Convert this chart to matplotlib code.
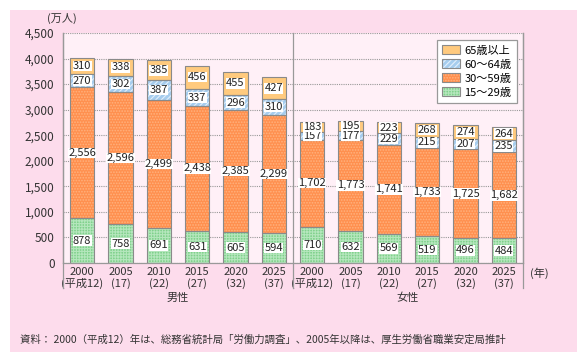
import matplotlib
matplotlib.use("Agg")
import matplotlib.pyplot as plt
from matplotlib.patches import Rectangle, Patch
from matplotlib.legend_handler import HandlerTuple
import matplotlib.transforms as mtransforms
import numpy as np

plt.rcParams['font.family'] = ['Noto Sans CJK JP', 'DejaVu Sans']
plt.rcParams['hatch.linewidth'] = 0.8

years = ["2000\n(平成12)", "2005\n(17)", "2010\n(22)", "2015\n(27)", "2020\n(32)", "2025\n(37)"]
groups = ["男性", "女性"]
series_names = ["15～29歳", "30～59歳", "60～64歳", "65歳以上"]

male_15_29 = [878, 758, 691, 631, 605, 594]
male_30_59 = [2556, 2596, 2499, 2438, 2385, 2299]
male_60_64 = [270, 302, 387, 337, 296, 310]
male_65 = [310, 338, 385, 456, 455, 427]

female_15_29 = [710, 632, 569, 519, 496, 484]
female_30_59 = [1702, 1773, 1741, 1733, 1725, 1682]
female_60_64 = [157, 177, 229, 215, 207, 235]
female_65 = [183, 195, 223, 268, 274, 264]

yticks = [0, 500, 1000, 1500, 2000, 2500, 3000, 3500, 4000, 4500]

series = [
    np.array(male_15_29 + female_15_29),
    np.array(male_30_59 + female_30_59),
    np.array(male_60_64 + female_60_64),
    np.array(male_65 + female_65),
]
faces = ['#80d18c', '#ff904f', '#a6cdee', '#ffca7e']
hatchcols = ['#b4e6bc', '#ffb27e', '#e2effb', '#ffca7e']
hatches = ['++++++', '......', '//////', None]

W, H = 588, 363
fig = plt.figure(figsize=(W / 100, H / 100), dpi=100, facecolor='white')
fig.patches.append(Rectangle((10 / W, 1 - 352 / H), 567 / W, 342 / H,
                             transform=fig.transFigure, facecolor='#fddcec',
                             edgecolor='none', zorder=-10))

ax = fig.add_axes([63 / W, 1 - 263 / H, 460 / W, 230 / H])
ax.set_facecolor('#fff0f7')

x = np.arange(12)
bw = 0.63
bottom = np.zeros(12)
for vals, fc, hc, ht in zip(series, faces, hatchcols, hatches):
    ax.bar(x, vals, bw, bottom=bottom, color=fc, edgecolor=hc, hatch=ht,
           linewidth=0, zorder=2)
    ax.bar(x, vals, bw, bottom=bottom, fill=False, edgecolor='#8a8a8a',
           linewidth=0.8, zorder=3)
    for xi, v, b in zip(x, vals, bottom):
        ax.text(xi, b + v / 2, f"{v:,}", ha='center', va='center', fontsize=8,
                zorder=4, color='#222222',
                bbox=dict(boxstyle='square,pad=0.02', fc='white', ec='none'))
    bottom = bottom + vals

ax.set_xlim(-0.5, 11.5)
ax.set_ylim(0, 4500)
ax.set_yticks(yticks)
ax.set_yticklabels([f"{v:,}" for v in yticks], fontsize=8.5, color='#333333')
ax.tick_params(axis='y', length=0, pad=6)
ax.set_xticks(x)
ax.set_xticklabels(years * 2, fontsize=8, color='#333333', linespacing=1.1)
ax.tick_params(axis='x', length=0, pad=3)
ax.yaxis.grid(True, linestyle=(0, (1, 1)), color='#999999', linewidth=0.8, zorder=0)
ax.set_axisbelow(True)
ax.spines['top'].set_visible(False)
for s in ['left', 'right', 'bottom']:
    ax.spines[s].set_color('#999999')
    ax.spines[s].set_linewidth(0.9)

trans = mtransforms.blended_transform_factory(ax.transData, ax.transAxes)
for xv in [-0.5, 5.5, 11.5]:
    ax.plot([xv, xv], [-0.11, 1.0], transform=trans, color='#999999',
            linewidth=0.9, clip_on=False, zorder=1)

for gi, g in enumerate(groups):
    ax.text(2.5 + 6 * gi, -0.15, g, transform=trans, ha='center', va='center',
            fontsize=8, color='#333333')

ax.text(1.015, -0.045, "(年)", transform=ax.transAxes, ha='left', va='center',
        fontsize=8, color='#333333')
fig.text(62 / W, 1 - 18 / H, "(万人)", ha='center', va='center', fontsize=8,
         color='#333333')
fig.text(20 / W, 1 - 340 / H,
         "資料： 2000（平成12）年は、総務省統計局「労働力調査」、2005年以降は、厚生労働省職業安定局推計",
         ha='left', va='center', fontsize=7.5, color='#333333')

handles = []
for fc, hc, ht in zip(faces, hatchcols, hatches):
    p1 = Patch(facecolor=fc, edgecolor=hc, hatch=ht, linewidth=0)
    p2 = Patch(fill=False, edgecolor='#8a8a8a', linewidth=0.8)
    handles.append((p1, p2))
leg = ax.legend(handles[::-1], series_names[::-1], handler_map={tuple: HandlerTuple(ndivide=1, pad=0)},
                loc='upper right', bbox_to_anchor=(0.987, 0.97), fontsize=8,
                frameon=True, fancybox=False, edgecolor='#999999', facecolor='white',
                framealpha=1, handlelength=1.6, handleheight=0.8, handletextpad=0.4,
                labelspacing=0.35, borderpad=0.5, borderaxespad=0)
leg.get_frame().set_linewidth(0.9)
leg.set_zorder(5)

fig.savefig("out.png", dpi=100, facecolor='white')
